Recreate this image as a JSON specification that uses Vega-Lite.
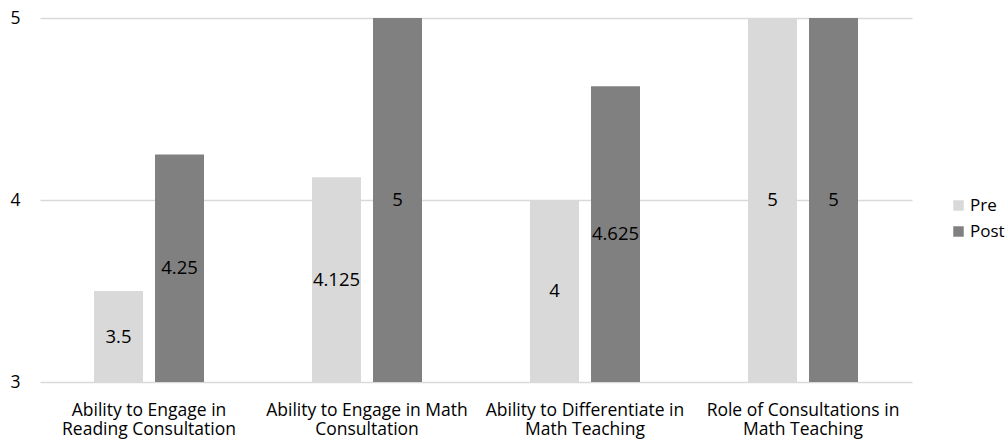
{
  "$schema": "https://vega.github.io/schema/vega-lite/v6.json",
  "width": 872,
  "height": 364,
  "autosize": {"type": "none"},
  "padding": {"left": 40, "top": 18, "right": 93, "bottom": 61},
  "background": "white",
  "config": {
    "view": {"stroke": null},
    "font": "Open Sans",
    "axis": {"labelFont": "Open Sans", "labelColor": "#000000", "labelFontSize": 17.5},
    "axisY": {"domain": false, "ticks": false, "labelPadding": 20, "labelOverlap": false,
              "grid": true, "gridColor": "#d9d9d9", "gridWidth": 1.5, "title": null,
              "labelExpr": "'' + round(datum.value)"},
    "legend": {"labelFont": "Open Sans", "labelColor": "#000000", "labelFontSize": 17}
  },
  "data": {
    "values": [
      {"category": "Ability to Engage in|Reading Consultation", "series": "Pre", "value": 3.5},
      {"category": "Ability to Engage in|Reading Consultation", "series": "Post", "value": 4.25},
      {"category": "Ability to Engage in  Math|Consultation", "series": "Pre", "value": 4.125},
      {"category": "Ability to Engage in  Math|Consultation", "series": "Post", "value": 5},
      {"category": "Ability to Differentiate in|Math Teaching", "series": "Pre", "value": 4},
      {"category": "Ability to Differentiate in|Math Teaching", "series": "Post", "value": 4.625},
      {"category": "Role of Consultations in|Math Teaching", "series": "Pre", "value": 5},
      {"category": "Role of Consultations in|Math Teaching", "series": "Post", "value": 5}
    ]
  },
  "transform": [{"calculate": "(datum.value + 3) / 2", "as": "mid"}],
  "encoding": {
    "x": {
      "field": "category", "type": "nominal", "sort": null, "title": null,
      "scale": {"paddingInner": 0, "paddingOuter": 0},
      "axis": {"labelAngle": 0, "domain": false, "ticks": false, "labelPadding": 19, "labelLimit": 400,
               "labelExpr": "split(datum.label, '|')", "labelLineHeight": 19, "labelBaseline": "top"}
    },
    "xOffset": {
      "field": "series", "type": "nominal", "sort": ["Pre", "Post"],
      "scale": {"paddingInner": 0.197, "paddingOuter": 0.885}
    }
  },
  "layer": [
    {
      "mark": {"type": "bar"},
      "encoding": {
        "y": {
          "field": "value", "type": "quantitative", "title": null,
          "scale": {"domain": [3, 5], "zero": false, "nice": false},
          "axis": {"values": [3, 4, 5]}
        },
        "y2": {"datum": 3},
        "color": {
          "field": "series", "type": "nominal", "sort": ["Pre", "Post"],
          "scale": {"domain": ["Pre", "Post"], "range": ["#d9d9d9", "#808080"]},
          "legend": {"title": null, "orient": "none", "legendX": 910, "legendY": 179,
                     "symbolType": "square", "symbolSize": 110, "symbolStrokeWidth": 0,
                     "rowPadding": 8, "labelOffset": 3}
        }
      }
    },
    {
      "mark": {"type": "text", "fontSize": 18.5, "color": "#000000", "font": "Open Sans", "baseline": "middle"},
      "encoding": {
        "y": {"field": "mid", "type": "quantitative", "title": null, "axis": {"values": [3, 4, 5]}},
        "text": {"field": "value", "type": "quantitative"}
      }
    }
  ]
}
